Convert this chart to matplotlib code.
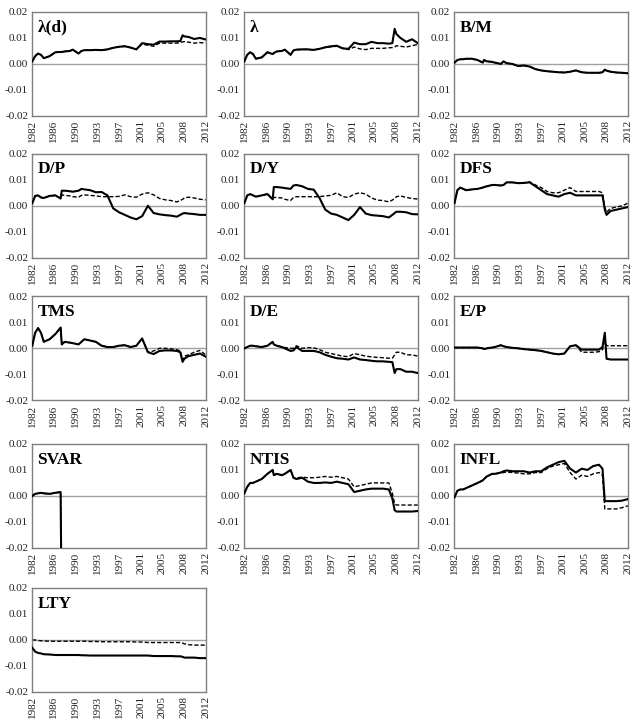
import numpy as np
import matplotlib
matplotlib.use('Agg')
import matplotlib.pyplot as plt

plt.rcParams['font.family'] = ['Liberation Serif', 'DejaVu Serif']

# time grid (years); values below are in units of 0.001
t = [1982.0, 1982.5, 1983.0, 1983.5, 1984.0, 1985.0, 1986.0, 1986.9, 1987.1, 1987.6,
     1988.5, 1989.0, 1990.0, 1990.5, 1991.0, 1992.0, 1993.0, 1994.0, 1995.0, 1996.0,
     1997.0, 1998.0, 1999.0, 2000.0, 2001.0, 2002.0, 2003.0, 2004.0, 2005.0, 2006.0,
     2007.0, 2007.6, 2008.0, 2008.3, 2009.0, 2010.0, 2011.0, 2012.0]

year_labels = ['1982', '1986', '1990', '1993', '1997', '2001', '2005', '2008', '2012']
titles = ['λ(d)', 'λ', 'B/M', 'D/P', 'D/Y', 'DFS', 'TMS', 'D/E', 'E/P',
          'SVAR', 'NTIS', 'INFL', 'LTY']

lamd_s = [1.0, 3.0, 4.0, 3.5, 2.2, 3.0, 4.5, 4.6, 4.6, 4.8, 5.0, 5.5, 4.0, 5.0, 5.3, 5.3, 5.4, 5.3, 5.6, 6.2,
          6.6, 6.8, 6.3, 5.6, 8.0, 7.6, 7.4, 8.6, 8.6, 8.7, 8.7, 8.8, 11.0, 10.6, 10.4, 9.6, 10.0, 9.4]
lamd_d = [1.0, 3.0, 4.0, 3.5, 2.2, 3.0, 4.5, 4.6, 4.6, 4.8, 5.0, 5.5, 4.0, 5.0, 5.3, 5.3, 5.4, 5.3, 5.6, 6.2,
          6.6, 6.8, 6.3, 5.6, 7.6, 7.2, 6.8, 8.0, 8.0, 8.0, 8.0, 8.2, 8.5, 8.6, 8.4, 8.0, 8.2, 8.0]

lam_s = [1.0, 3.5, 4.5, 3.8, 2.0, 2.5, 4.5, 3.8, 4.2, 4.8, 5.0, 5.5, 3.5, 5.2, 5.5, 5.6, 5.6, 5.4, 5.8, 6.4,
         6.8, 7.0, 6.0, 5.8, 8.2, 7.6, 7.6, 8.5, 8.0, 8.0, 7.8, 8.0, 13.5, 11.5, 10.0, 8.5, 9.5, 8.0]
lam_d = [1.0, 3.5, 4.5, 3.8, 2.0, 2.5, 4.5, 3.8, 4.2, 4.8, 5.0, 5.5, 3.5, 5.2, 5.5, 5.6, 5.6, 5.4, 5.8, 6.4,
         6.6, 6.8, 6.0, 5.5, 6.5, 5.8, 5.5, 6.0, 6.0, 6.0, 6.2, 6.3, 6.5, 7.0, 6.8, 6.5, 7.0, 7.5]

bm_s = [0.5, 1.5, 1.8, 1.8, 2.0, 2.0, 1.5, 0.5, 1.5, 1.0, 0.8, 0.5, 0.0, 1.0, 0.3, 0.0, -0.8, -0.6, -1.0, -2.0,
        -2.5, -2.8, -3.0, -3.2, -3.3, -3.0, -2.5, -3.2, -3.4, -3.4, -3.4, -3.2, -2.2, -2.6, -3.0, -3.3, -3.4, -3.6]
bm_d = list(bm_s)

dp_s = [1.0, 3.8, 4.0, 3.2, 3.0, 3.8, 4.0, 2.8, 5.8, 5.8, 5.6, 5.4, 5.8, 6.5, 6.3, 6.0, 5.2, 5.3, 4.0, -1.0,
        -2.5, -3.5, -4.5, -5.2, -4.0, 0.0, -2.8, -3.3, -3.6, -3.8, -4.2, -3.5, -3.0, -2.8, -3.0, -3.2, -3.5, -3.5]
dp_d = [1.0, 3.8, 4.0, 3.2, 3.0, 3.8, 4.0, 2.8, 4.2, 4.0, 3.8, 3.5, 3.3, 4.0, 4.2, 4.0, 3.8, 3.5, 3.5, 3.5,
        3.6, 4.2, 3.5, 3.3, 4.5, 5.0, 4.2, 2.8, 2.3, 2.0, 1.5, 2.0, 2.5, 3.0, 3.3, 3.0, 2.5, 2.3]

dy_s = [1.0, 4.0, 4.5, 4.0, 3.5, 4.0, 4.5, 2.5, 7.2, 7.2, 7.0, 6.8, 6.5, 7.8, 8.0, 7.5, 6.5, 6.2, 3.0, -1.5,
        -3.0, -3.5, -4.5, -5.5, -3.5, -0.5, -3.0, -3.6, -3.8, -4.0, -4.5, -3.5, -2.8, -2.3, -2.3, -2.5, -3.2, -3.3]
dy_d = [1.0, 4.0, 4.5, 4.0, 3.5, 4.0, 4.5, 2.5, 3.2, 3.2, 3.0, 2.5, 2.0, 3.2, 3.5, 3.5, 3.5, 3.5, 3.5, 3.8,
        4.0, 5.0, 3.5, 3.2, 4.5, 5.0, 4.5, 3.0, 2.2, 2.0, 1.5, 2.2, 2.8, 3.5, 3.8, 3.2, 2.8, 2.6]

dfs_s = [1.0, 6.0, 7.0, 6.5, 6.0, 6.3, 6.5, 7.0, 7.2, 7.5, 8.0, 8.0, 7.8, 8.0, 9.0, 9.0, 8.7, 8.8, 9.0, 7.5,
         6.0, 4.5, 4.0, 3.5, 4.5, 5.0, 4.0, 4.0, 4.0, 4.0, 4.0, 4.0, -1.5, -3.5, -2.0, -1.5, -1.0, -0.5]
dfs_d = [1.0, 6.0, 7.0, 6.5, 6.0, 6.3, 6.5, 7.0, 7.2, 7.5, 8.0, 8.0, 7.8, 8.0, 9.0, 9.0, 8.7, 8.8, 9.2, 8.0,
         7.0, 5.5, 5.0, 5.0, 6.0, 7.0, 5.5, 5.5, 5.5, 5.5, 5.5, 5.0, -0.5, -2.5, -1.0, -0.5, 0.0, 1.0]

tms_s = [1.0, 6.0, 7.8, 6.0, 2.5, 3.5, 5.5, 8.0, 1.5, 2.5, 2.2, 2.0, 1.5, 2.5, 3.5, 3.0, 2.5, 1.0, 0.5, 0.5,
         1.0, 1.2, 0.5, 1.0, 3.8, -1.5, -2.2, -1.0, -0.8, -0.8, -1.0, -1.5, -5.2, -4.0, -3.0, -2.5, -2.0, -3.2]
tms_d = [1.0, 6.0, 7.8, 6.0, 2.5, 3.5, 5.5, 8.0, 1.5, 2.5, 2.2, 2.0, 1.5, 2.5, 3.5, 3.0, 2.5, 1.0, 0.5, 0.5,
         1.0, 1.2, 0.5, 1.0, 3.8, -1.5, -1.0, 0.0, 0.0, -0.2, -0.5, -1.0, -4.5, -3.0, -2.5, -1.5, -0.8, -2.5]

de_s = [0.0, 0.5, 1.0, 1.0, 0.8, 0.5, 1.0, 2.5, 1.5, 1.0, 0.5, 0.0, -1.0, -0.8, 0.5, -1.0, -1.0, -1.0, -1.5, -2.5,
        -3.2, -3.8, -4.0, -4.3, -3.5, -4.3, -4.5, -4.8, -5.0, -5.0, -5.2, -5.3, -9.5, -8.0, -8.0, -9.0, -9.0, -9.5]
de_d = [0.0, 0.5, 1.0, 1.0, 0.8, 0.5, 1.0, 2.5, 1.5, 1.0, 0.5, 0.3, 0.0, 0.0, 1.0, 0.0, 0.3, 0.2, -0.5, -1.5,
        -2.0, -2.5, -3.0, -3.2, -2.0, -2.5, -3.0, -3.3, -3.5, -3.6, -3.8, -3.8, -2.5, -1.5, -1.5, -2.5, -2.5, -3.0]

ep_s = [0.3, 0.3, 0.3, 0.3, 0.3, 0.3, 0.3, 0.0, -0.3, 0.0, 0.3, 0.5, 1.2, 0.8, 0.5, 0.2, 0.0, -0.3, -0.5, -0.7,
        -1.0, -1.5, -2.0, -2.3, -2.0, 0.8, 1.2, -0.5, -0.5, -0.5, -0.5, 0.5, 6.0, -4.0, -4.3, -4.3, -4.3, -4.3]
ep_d = [0.3, 0.3, 0.3, 0.3, 0.3, 0.3, 0.3, 0.0, -0.3, 0.0, 0.3, 0.5, 1.2, 0.8, 0.5, 0.2, 0.0, -0.3, -0.5, -0.7,
        -1.0, -1.5, -2.0, -2.3, -2.0, 0.8, 1.2, -1.5, -1.5, -1.5, -1.3, -0.5, 4.0, 1.0, 1.0, 1.0, 1.0, 1.0]

svar_s = [0.0, 0.8, 1.0, 1.2, 1.0, 0.8, 1.2, 1.5, -50, -50, -50, -50, -50, -50, -50, -50, -50, -50, -50, -50,
          -50, -50, -50, -50, -50, -50, -50, -50, -50, -50, -50, -50, -50, -50, -50, -50, -50, -50]
svar_d = list(svar_s)

ntis_s = [1.0, 3.5, 5.0, 5.0, 5.5, 6.5, 8.5, 10.0, 8.0, 8.5, 8.0, 8.5, 10.0, 7.0, 6.5, 7.0, 5.5, 5.0, 5.0, 5.2,
          5.0, 5.5, 5.0, 4.5, 1.5, 2.0, 2.5, 2.8, 2.8, 2.8, 2.5, -1.0, -5.5, -6.0, -6.0, -6.0, -6.0, -5.8]
ntis_d = [1.0, 3.5, 5.0, 5.0, 5.5, 6.5, 8.5, 10.0, 8.0, 8.5, 8.0, 8.5, 10.0, 7.0, 7.0, 7.2, 7.0, 7.0, 7.2, 7.5,
          7.2, 7.5, 7.0, 6.5, 3.5, 4.0, 4.5, 5.0, 5.0, 5.0, 5.0, 1.0, -3.0, -3.5, -3.5, -3.5, -3.5, -3.5]

infl_s = [-0.5, 2.0, 2.5, 2.5, 3.0, 4.0, 5.0, 6.0, 6.5, 7.5, 8.5, 8.5, 9.0, 9.5, 9.8, 9.5, 9.5, 9.5, 9.0, 9.5,
          9.5, 11.0, 12.0, 13.0, 13.5, 10.5, 9.0, 10.5, 10.0, 11.5, 12.0, 10.5, -2.0, -2.0, -2.0, -2.0, -1.8, -1.2]
infl_d = [-0.5, 2.0, 2.5, 2.5, 3.0, 4.0, 5.0, 6.0, 6.5, 7.5, 8.5, 8.5, 8.8, 9.0, 9.2, 9.0, 8.8, 8.5, 8.5, 9.0,
          9.0, 10.5, 11.5, 12.0, 12.5, 9.0, 6.5, 8.0, 7.5, 8.5, 9.0, 8.0, -5.0, -5.0, -5.0, -5.0, -4.5, -3.8]

lty_s = [-3.0, -4.5, -5.0, -5.2, -5.5, -5.6, -5.8, -5.8, -5.8, -5.8, -5.8, -5.8, -5.8, -5.9, -5.9, -6.0, -6.0, -6.0, -6.0, -6.0,
         -6.0, -6.0, -6.0, -6.0, -6.0, -6.0, -6.2, -6.2, -6.2, -6.2, -6.3, -6.3, -6.5, -6.8, -6.8, -6.8, -7.0, -7.0]
lty_d = [0.0, 0.0, -0.2, -0.3, -0.4, -0.5, -0.5, -0.5, -0.5, -0.5, -0.5, -0.5, -0.5, -0.5, -0.5, -0.6, -0.6, -0.7, -0.7, -0.7,
         -0.7, -0.7, -0.7, -0.8, -0.8, -1.0, -1.0, -1.0, -1.0, -1.0, -1.0, -1.0, -1.2, -1.5, -1.8, -2.0, -2.0, -2.0]

solid = [lamd_s, lam_s, bm_s, dp_s, dy_s, dfs_s, tms_s, de_s, ep_s, svar_s, ntis_s, infl_s, lty_s]
dashed = [lamd_d, lam_d, bm_d, dp_d, dy_d, dfs_d, tms_d, de_d, ep_d, svar_d, ntis_d, infl_d, lty_d]

fig = plt.figure(figsize=(6.33, 7.2), dpi=100)

lefts = [0.051, 0.386, 0.718]
bottoms = [0.839, 0.642, 0.444, 0.239, 0.039]
w, h = 0.274, 0.1444

for i, name in enumerate(titles):
    row, col = divmod(i, 3)
    ax = fig.add_axes([lefts[col], bottoms[row], w, h])
    ys = np.array(solid[i]) / 1000.0
    yd = np.array(dashed[i]) / 1000.0
    ax.axhline(0, color='#a0a0a0', lw=1.0, zorder=1)
    ax.plot(t, yd, color='black', lw=1.0, ls=(0, (3, 1.5)), zorder=2)
    ax.plot(t, ys, color='black', lw=1.5, zorder=3)
    ax.set_xlim(1982, 2012)
    ax.set_ylim(-0.02, 0.02)
    ax.set_yticks([-0.02, -0.01, 0.0, 0.01, 0.02])
    ax.set_yticklabels(['-0.02', '-0.01', '0.00', '0.01', '0.02'])
    ax.set_xticks(np.linspace(1982, 2012, 9))
    ax.set_xticklabels(year_labels, rotation=90)
    ax.tick_params(length=0, labelsize=8, pad=3, colors='#222222')
    for sp in ax.spines.values():
        sp.set_color('#7f7f7f')
        sp.set_linewidth(1.0)
    ax.text(0.03, 0.85, name, transform=ax.transAxes, fontsize=12.5,
            fontweight='bold', va='center', ha='left')

fig.savefig('out.png', dpi=100)
